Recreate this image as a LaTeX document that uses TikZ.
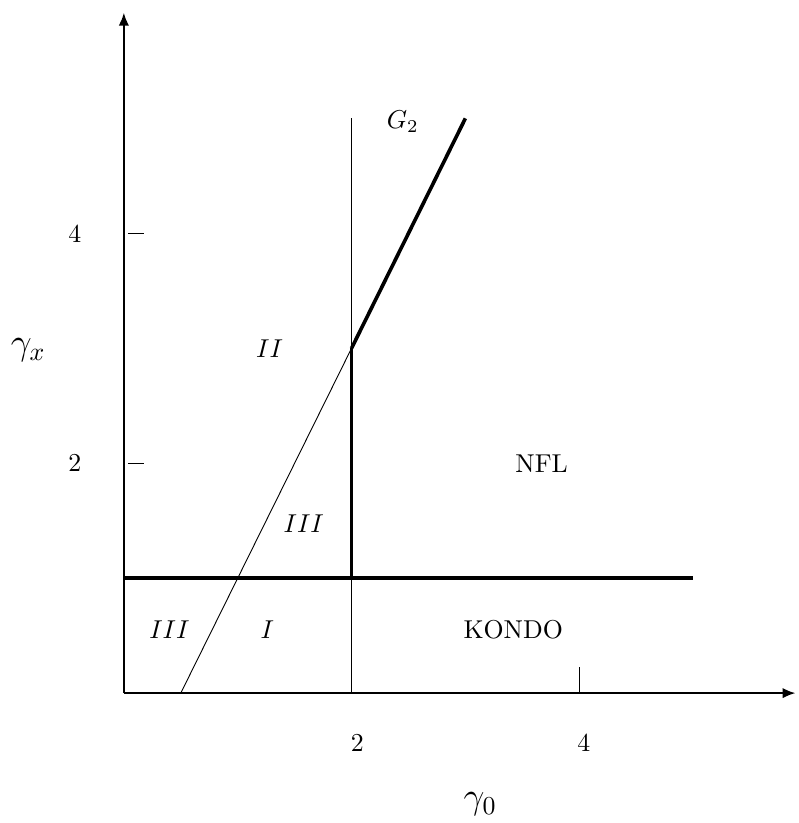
\documentclass[tikz,border=0pt]{standalone}
\usetikzlibrary{arrows.meta}
\begin{document}
\begin{tikzpicture}[x=1.55cm,y=1.565cm]
\useasboundingbox (-1.088,-1.13) rectangle (5.93,6.03);
\def\xmax{5.9};
\def\ymax{5.92};
\coordinate (O) at (0,0);
\coordinate (X) at (\xmax,0);
\coordinate (Y) at (0,\ymax);
\draw[-{Latex[length=5pt,width=4pt]},line width=0.8pt] (O) -- (X);
\draw[-{Latex[length=5pt,width=4pt]},line width=0.8pt] (O) -- (Y);
\foreach \y in {2,4}	\draw(0.04,\y)--(0.18,\y);
\foreach \y in {2,4}	\node (ly\y) at (-0.43,\y) {\y};
\draw (4,0)--(4,0.23);
\node (lab2) at (2.05,-0.43) {2};
\node (lab4) at (4.04,-0.43) {4};
\node (gx) at (-0.84,2.98) {\Large$\gamma_x$};
\node (g0) at (3.13,-0.97) {\Large$\gamma_0$};
% phase boundaries
\coordinate (A) at (0.5,0);
\coordinate (B) at (2,3);
\coordinate (C) at (3,5);
\coordinate (D) at (2,1);
\draw[line width=1.4pt] (0,1)--(5,1);
\draw[line width=0.55pt] (2,0)--(D);
\draw[line width=1.4pt] (D)--(B);
\draw[line width=0.55pt] (B)--(2,5);
\draw[line width=0.35pt] (A)--(B);
\draw[line width=1.4pt] (B)--(C);
% regions
\node (r2) at (1.28,3.0) {$II$};
\node (r3a) at (1.58,1.47) {$III$};
\node (r3b) at (0.4,0.55) {$III$};
\node (r1) at (1.26,0.55) {$I$};
\node (kondo) at (3.42,0.55) {KONDO};
\node (nfl) at (3.67,2.0) {NFL};
\node (g2) at (2.45,4.97) {$G_2$};
\end{tikzpicture}
\end{document}
